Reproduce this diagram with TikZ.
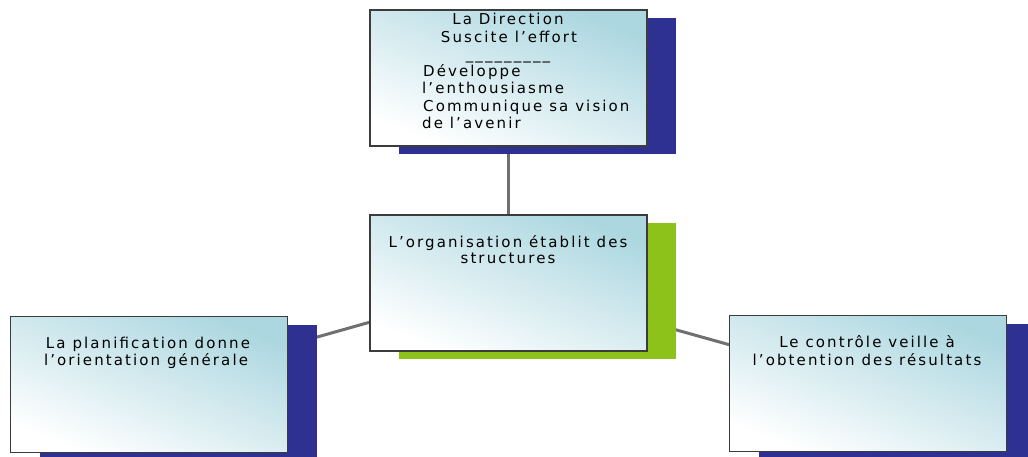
\documentclass[tikz,border=0pt]{standalone}
\usepackage{fontspec}
\newfontfamily\boxfont[LetterSpace=14]{DejaVu Sans}
\usetikzlibrary{shadows,backgrounds}
\definecolor{navyshadow}{RGB}{46,49,146}
\definecolor{greenshadow}{RGB}{140,194,26}
\definecolor{tealtint}{RGB}{172,215,224}
\definecolor{boxedge}{RGB}{60,60,60}
\definecolor{linkgray}{RGB}{112,112,112}
\tikzset{
  card/.style={draw=boxedge, line width=1.5pt, minimum width=277pt, minimum height=136pt,
    inner sep=0pt, shading=axis, top color=tealtint, middle color=white,
    bottom color=white, shading angle=-22},
  navycard/.style={card, drop shadow={shadow xshift=29pt, shadow yshift=-8pt, fill=navyshadow, opacity=1}},
  greencard/.style={card, drop shadow={shadow xshift=29pt, shadow yshift=-8pt, fill=greenshadow, opacity=1}},
  link/.style={draw=linkgray, line width=3pt},
  txt/.style={font=\boxfont\fontsize{15}{17.5}\selectfont, text=black, inner sep=0pt, anchor=base},
  txtl/.style={txt, anchor=base west}
}
\begin{document}
\begin{tikzpicture}[x=1pt,y=-1pt]
\useasboundingbox (0,0) rectangle (1028,456);
\node[navycard] (dir) at (508.5,78) {};
\node[greencard] (org) at (508.5,283) {};
\node[navycard] (plan) at (149,384.5) {};
\node[navycard] (ctrl) at (868,383.5) {};
\begin{scope}[on background layer]
  \draw[link] (dir.center) -- (org.center);
  \draw[link] (plan.center) -- (org.center);
  \draw[link] (org.center) -- (ctrl.center);
\end{scope}
\node[txt] (dirA) at (508,24) {La Direction};
\node[txt] (dirB) at (509,42) {Suscite l’effort};
\node[txt] (dirC) at (508,59) {\_\_\_\_\_\_\_\_\_};
\node[txtl] (dirD) at (423,76) {Développe};
\node[txtl] (dirE) at (422,93) {l’enthousiasme};
\node[txtl] (dirF) at (423,111) {Communique sa vision};
\node[txtl] (dirG) at (422,128) {de l’avenir};
\node[txt] (orgA) at (508,247) {L’organisation établit des};
\node[txt] (orgB) at (508,263) {structures};
\node[txt] (planA) at (148,348) {La planification donne};
\node[txt] (planB) at (146,365) {l’orientation générale};
\node[txt] (ctrlA) at (867,347) {Le contrôle veille à};
\node[txt] (ctrlB) at (867,365) {l’obtention des résultats};
\end{tikzpicture}
\end{document}
